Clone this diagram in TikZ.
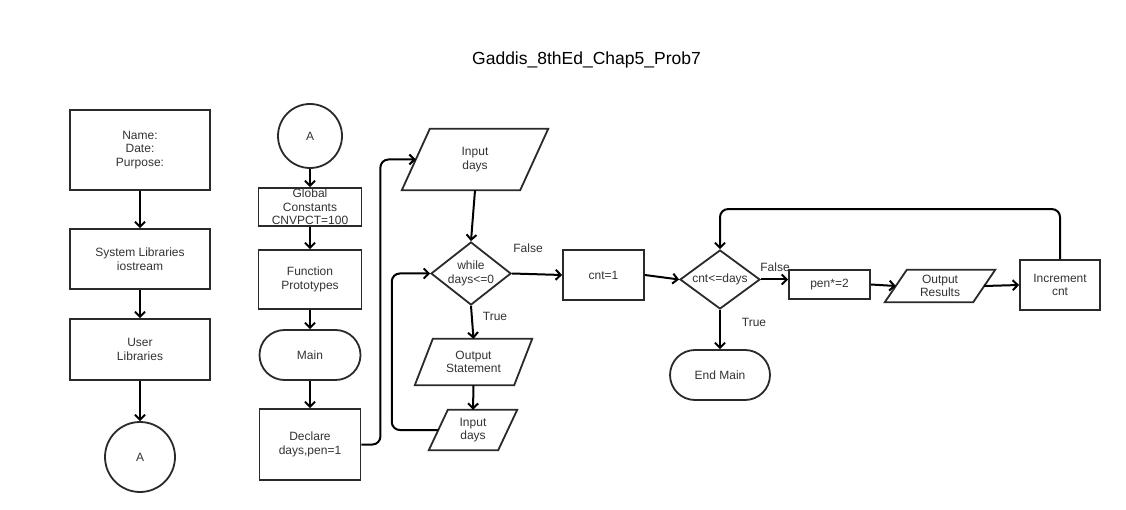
\documentclass[tikz,border=0pt]{standalone}
\usepackage{fontspec}
\setmainfont{Liberation Sans}
\usetikzlibrary{arrows.meta,shapes.geometric}
\definecolor{ink}{HTML}{333333}
\definecolor{edge}{HTML}{2A2A2A}
\newcommand{\drawpara}[2]{\draw[edgeline] ([xshift=#2]#1.north west) -- (#1.north east) -- ([xshift=-#2]#1.south east) -- (#1.south west) -- cycle;}
\begin{document}
\begin{tikzpicture}[x=1pt,y=-1pt,
  every node/.style={font=\fontsize{12}{13.5}\selectfont, text=ink, align=center},
  edgeline/.style={draw=edge, line width=1.8pt},
  box/.style={edgeline, rectangle, inner sep=0pt},
  term/.style={edgeline, rectangle, rounded corners=25pt, inner sep=0pt},
  circ/.style={edgeline, circle, inner sep=0pt},
  dia/.style={edgeline, diamond, inner sep=0pt},
  io/.style={inner sep=0pt},
  arr/.style={line width=2pt, black, -{Straight Barb[length=5pt,width=10pt]}},
  lbl/.style={inner sep=0pt},
  titlestyle/.style={font=\fontsize{17.5}{20}\selectfont, text=black}
]
\fill[white] (0,0) rectangle (1126,510);
\useasboundingbox (0,0) rectangle (1126,510);

\node[titlestyle] (title) at (586.5,60) {Gaddis\_8thEd\_Chap5\_Prob7};

% left column
\node[box, minimum width=140, minimum height=80] (hdr) at (140,150) {Name:\\Date:\\Purpose:};
\node[box, minimum width=140, minimum height=60] (sys) at (140,259) {System Libraries\\iostream};
\node[box, minimum width=140, minimum height=61] (usr) at (140,349.5) {User\\Libraries};
\node[circ, minimum size=70] (ca1) at (140,457) {A};

% second column
\node[circ, minimum size=64] (ca2) at (310,136) {A};
\node[box, minimum width=103, minimum height=38] (gc) at (310,207) {};
\node[lbl] (gct) at (gc.center) {Global\\Constants\\CNVPCT=100};
\node[box, minimum width=103, minimum height=59] (fp) at (310,279.5) {Function\\Prototypes};
\node[term, minimum width=101, minimum height=50] (mn) at (310,355) {Main};
\node[box, minimum width=101, minimum height=71] (dec) at (310,444.5) {Declare\\days,pen=1};

% third column
\node[io, minimum width=146, minimum height=61] (in1) at (475,159.5) {Input\\days};
\drawpara{in1}{28}
\node[dia, aspect=1.27, minimum width=80, minimum height=63] (wh) at (471,273.5) {while\\days<=0};
\node[io, minimum width=117, minimum height=46] (outst) at (473.5,362) {Output\\Statement};
\drawpara{outst}{18}
\node[io, minimum width=88, minimum height=40] (in2) at (473,430) {Input\\days};
\drawpara{in2}{19}

% right part
\node[box, minimum width=81, minimum height=50] (c1) at (603.5,275) {cnt=1};
\node[dia, aspect=1.36, minimum width=80, minimum height=59] (d2) at (720,279.5) {cnt<=days};
\node[term, minimum width=100, minimum height=50] (em) at (720,375) {End Main};
\node[box, minimum width=81, minimum height=29] (pen) at (829.5,284.5) {pen*=2};
\node[io, minimum width=110, minimum height=32] (outr) at (940,286) {Output\\Results};
\drawpara{outr}{22}
\node[box, minimum width=80, minimum height=50] (inc) at (1060,285) {Increment\\cnt};

% labels
\node[lbl] (f1) at (528,248) {False};
\node[lbl] (t1) at (495,316) {True};
\node[lbl] (f2) at (775,267) {False};
\node[lbl] (t2) at (754,322) {True};

% connectors left column
\draw[arr] (hdr.south) -- (sys.north);
\draw[arr] (sys.south) -- (usr.north);
\draw[arr] (usr.south) -- (ca1.north);

% second column
\draw[arr] (ca2.south) -- (gc.north);
\draw[arr] (gc.south) -- (fp.north);
\draw[arr] (fp.south) -- (mn.north);
\draw[arr] (mn.south) -- (dec.north);
\draw[arr, rounded corners=8pt] (dec.east) -- ++(19,0) |- ([xshift=14]in1.west);

% third column
\draw[arr] (in1.south) -- (wh.north);
\draw[arr] (wh.south) -- (outst.north);
\draw[arr] (outst.south) -- (in2.north);
\draw[arr, rounded corners=8pt] ([xshift=9.5]in2.west) -- ++(-46.5,0) |- (wh.west);
\draw[arr] (wh.east) -- (c1.west);

% right part
\draw[arr] (c1.east) -- (d2.west);
\draw[arr] (d2.east) -- (d2.east -| pen.west);
\draw[arr] (d2.south) -- (em.north);
\draw[arr] (pen.east) -- ([xshift=11]outr.west);
\draw[arr] ([xshift=-11]outr.east) -- (inc.west);
\draw[arr, rounded corners=8pt] (inc.north) -- ++(0,-50) -| (d2.north);
\end{tikzpicture}
\end{document}
